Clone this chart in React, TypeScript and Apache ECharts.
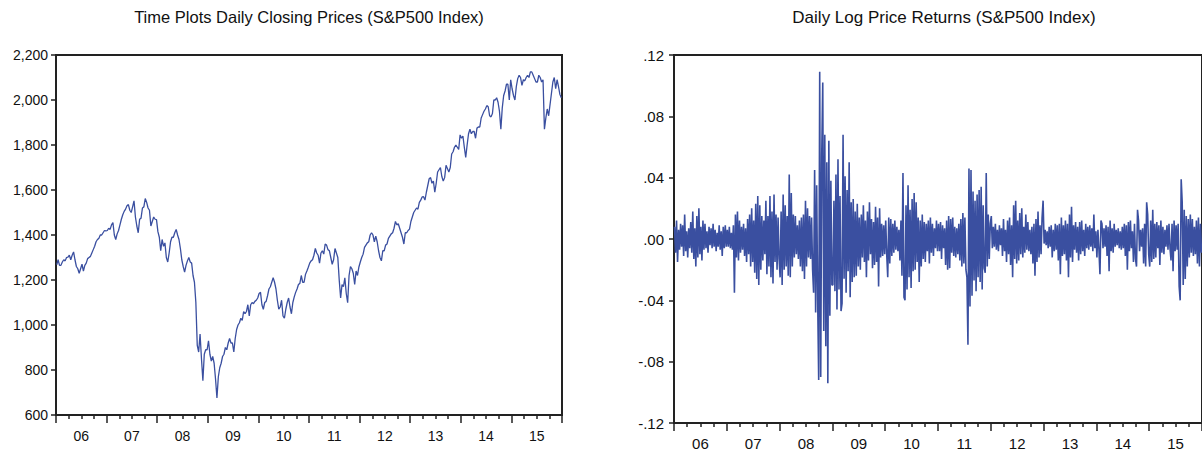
import React, { useEffect, useRef } from "react";
import * as echarts from "echarts";

// Year labels
const yearLabels = ["06", "07", "08", "09", "10", "11", "12", "13", "14", "15"];
const years = [2006, 2007, 2008, 2009, 2010, 2011, 2012, 2013, 2014, 2015];

// S&P500 closing prices, ~3 readings per month (36 per year)
const price2006 = [1268, 1290, 1265, 1265, 1280, 1290, 1285, 1300, 1302, 1310, 1290, 1310, 1325, 1290, 1260, 1250, 1230, 1250, 1270, 1240, 1265, 1275, 1295, 1300, 1305, 1320, 1335, 1350, 1370, 1380, 1385, 1400, 1400, 1410, 1420, 1418];
const price2007 = [1420, 1430, 1425, 1445, 1455, 1400, 1380, 1405, 1420, 1445, 1470, 1490, 1505, 1515, 1530, 1535, 1510, 1500, 1525, 1552, 1480, 1440, 1410, 1470, 1475, 1520, 1525, 1562, 1545, 1520, 1510, 1440, 1460, 1480, 1470, 1468];
const price2008 = [1415, 1390, 1330, 1380, 1350, 1365, 1300, 1280, 1320, 1370, 1390, 1390, 1410, 1425, 1400, 1380, 1340, 1290, 1260, 1235, 1265, 1285, 1300, 1280, 1275, 1220, 1190, 1100, 910, 880, 960, 850, 752, 870, 890, 890];
const price2009 = [930, 870, 840, 860, 830, 760, 676, 770, 810, 830, 860, 870, 900, 890, 920, 940, 920, 920, 880, 940, 980, 1000, 1010, 1030, 1020, 1060, 1050, 1060, 1090, 1040, 1090, 1100, 1095, 1105, 1110, 1120];
const price2010 = [1140, 1145, 1090, 1070, 1100, 1105, 1130, 1160, 1170, 1190, 1210, 1190, 1160, 1110, 1070, 1080, 1110, 1040, 1030, 1070, 1100, 1120, 1080, 1050, 1100, 1125, 1145, 1160, 1180, 1185, 1220, 1190, 1190, 1225, 1240, 1257];
const price2011 = [1275, 1285, 1290, 1310, 1340, 1320, 1310, 1275, 1320, 1330, 1315, 1360, 1355, 1335, 1330, 1300, 1270, 1290, 1340, 1320, 1300, 1200, 1120, 1180, 1170, 1210, 1140, 1099, 1220, 1260, 1250, 1230, 1180, 1240, 1220, 1258];
const price2012 = [1280, 1300, 1315, 1345, 1355, 1365, 1370, 1400, 1410, 1400, 1370, 1395, 1370, 1330, 1300, 1285, 1330, 1330, 1355, 1360, 1385, 1395, 1405, 1410, 1430, 1460, 1445, 1450, 1430, 1410, 1390, 1360, 1410, 1410, 1420, 1426];
const price2013 = [1460, 1480, 1500, 1510, 1520, 1515, 1545, 1555, 1569, 1570, 1555, 1590, 1620, 1650, 1655, 1630, 1640, 1590, 1630, 1680, 1690, 1700, 1660, 1640, 1655, 1710, 1695, 1680, 1700, 1760, 1770, 1790, 1800, 1790, 1780, 1845];
const price2014 = [1830, 1840, 1790, 1745, 1800, 1850, 1870, 1850, 1860, 1860, 1830, 1875, 1880, 1880, 1920, 1935, 1950, 1960, 1975, 1970, 1930, 1925, 1940, 2000, 2000, 2010, 1990, 1950, 1870, 1965, 2020, 2040, 2070, 2070, 2000, 2090];
const price2015 = [2050, 2020, 2000, 2060, 2095, 2110, 2100, 2065, 2090, 2085, 2100, 2110, 2100, 2125, 2125, 2110, 2095, 2080, 2080, 2110, 2100, 2080, 2090, 1870, 1920, 1960, 1930, 1980, 2030, 2080, 2100, 2050, 2090, 2060, 2025, 2010];

// Daily log returns, in percent, ~weekly readings (52 per year)
const ret2006 = [0.8, -0.9, 1.2, -1.5, 0.6, -0.7, 1.0, -0.5, 0.9, -1.1, 1.6, -0.8, 0.5, -1.2, 0.7, -0.6, 1.1, -0.9, 1.8, -1.3, 0.7, -1.8, 1.5, -1.2, 2.0, -1.0, 0.8, -1.4, 1.2, -0.7, 1.0, -0.6, 0.5, -0.9, 0.8, -0.4, 0.7, -0.6, 1.0, -0.5, 0.6, -0.8, 0.4, -0.5, 0.9, -0.7, 0.5, -1.1, 0.8, -0.6, 0.9, -0.5];
const ret2007 = [0.6, -0.5, 0.8, -0.6, 0.4, -0.7, 0.9, -3.5, 1.6, -1.2, 1.8, -1.4, 1.2, -0.9, 0.8, -0.7, 1.0, -1.1, 0.7, -1.5, 1.3, -1.0, 1.6, -1.8, 2.0, -1.5, 1.2, -2.2, 2.3, -2.6, 2.8, -3.0, 2.2, -2.0, 1.5, -1.4, 1.2, -1.0, 2.5, -2.3, 1.5, -1.8, 2.8, -2.5, 1.8, -2.9, 2.9, -1.5, 1.6, -2.0, 1.4, -1.3];
const ret2008 = [-2.5, 1.8, -3.0, 2.9, -2.0, 2.2, -1.8, 1.5, -2.4, 4.2, -2.5, 3.0, -1.8, 1.6, -1.2, 1.5, -1.0, 0.9, -1.3, 1.2, -1.8, 1.4, -2.1, 1.6, -2.6, 2.5, -1.8, 2.0, -1.2, 1.5, -1.3, 1.4, -2.0, -3.5, 4.5, -4.8, 3.5, -4.0, -9.2, 10.9, -9.0, 5.5, 10.2, -6.0, 6.8, -7.0, 5.0, -9.4, 6.4, -5.0, 3.8, -3.0];
const ret2009 = [-3.0, 2.5, -3.4, 4.2, -4.6, 5.2, -3.3, 2.8, -4.7, -4.2, 6.8, -2.6, 4.1, -3.5, 3.2, -2.1, 5.0, -3.8, 2.4, -2.8, 2.6, -2.5, 1.8, -2.4, 2.3, -1.8, 1.4, -2.0, 1.6, -1.2, 2.2, -1.5, 1.2, -2.5, 1.8, -1.4, 2.4, -1.0, 1.3, -1.9, 1.1, -1.7, 2.1, -1.5, 1.4, -3.1, 2.0, -1.2, 1.0, -1.1, 0.9, -1.0];
const ret2010 = [1.2, -1.0, -2.5, 1.4, -1.6, 1.3, -1.1, 1.0, -0.9, 1.2, -0.7, 0.8, -0.8, 0.6, -1.4, 1.2, -2.4, 4.3, -3.8, -4.0, 2.2, -3.3, 3.5, -2.5, 1.9, -3.2, 2.6, -2.1, 3.0, -2.0, 2.4, -1.5, 1.4, -2.8, 1.2, -1.8, 1.6, -1.3, 1.1, -1.5, 1.0, -0.8, 1.2, -1.6, 1.4, -0.9, 1.0, -1.1, 0.7, -0.6, 1.2, -0.8];
const ret2011 = [1.0, -0.8, 1.1, -1.3, 0.9, -0.6, 0.7, -1.7, 1.2, -2.0, 1.5, -1.9, 1.3, -0.9, 1.4, -1.1, 0.8, -1.2, 0.7, -1.0, 1.0, -1.4, 1.3, -1.8, 1.7, -1.6, 1.4, -2.0, -2.5, -6.9, 4.6, -4.4, 4.5, -3.7, 3.1, -2.7, 2.5, -3.4, 2.9, -2.5, 3.2, -2.8, 3.4, -3.3, 2.2, -1.9, -2.2, 4.3, -1.8, 1.6, -1.3, 1.0];
const ret2012 = [1.5, -0.6, 0.8, -0.5, 1.0, -0.7, 0.6, -0.8, 0.9, -0.4, 0.7, -1.1, 1.3, -0.8, 0.6, -1.5, 1.2, -1.0, 1.4, -1.7, 0.9, -2.5, 2.2, -1.3, 2.5, -1.6, 1.2, -1.4, 1.7, -1.0, 2.0, -1.2, 0.8, -0.9, 1.6, -0.7, 1.1, -0.8, 0.6, -1.0, 0.8, -1.6, 1.0, -2.4, 1.3, -1.5, 1.8, -1.2, 0.9, -1.0, 1.4, 2.5];
const ret2013 = [-0.3, 0.6, -0.4, 0.5, -0.6, 0.8, -0.5, 0.9, -1.2, 0.6, -0.8, 1.0, -0.7, 0.9, -1.4, 1.0, -2.3, 1.4, -1.1, 0.9, -1.0, 1.2, -1.4, 1.0, -2.5, 1.6, -1.2, 2.1, -1.5, 0.9, -0.7, 1.1, -0.9, 0.8, -1.4, 1.1, -1.0, 1.2, -0.8, 0.6, -1.1, 1.0, -0.6, 0.8, -0.7, 0.9, -0.5, 0.7, -0.8, 1.6, -0.6, 0.5];
const ret2014 = [-1.2, 0.6, -0.7, -2.3, 1.2, 1.0, -0.6, 0.7, -0.5, 0.9, -1.1, 0.8, -2.1, 1.2, -0.8, 0.7, -0.9, 1.0, -0.5, 0.6, -0.4, 0.7, -0.6, 0.5, -0.7, 0.8, -0.6, 1.0, -1.1, 0.9, -2.0, 1.1, -0.8, 1.2, -0.6, 0.5, -1.5, 1.0, -1.3, -1.8, 1.9, 1.2, -0.8, 0.6, -0.5, 0.7, -1.6, 1.0, -1.8, 2.4, 1.6, -1.0];
const ret2015 = [-1.8, 1.2, -1.5, 1.9, -1.3, 1.0, -1.2, 1.1, -0.6, 0.9, -1.7, 1.2, -0.9, 0.8, -1.0, 0.6, -0.5, 0.9, -0.7, 1.0, -0.6, -1.4, 1.0, -2.1, 1.2, -0.8, 0.9, -0.7, 1.0, -3.1, -4.0, 3.9, 2.4, -3.0, 1.9, -2.6, 1.5, -1.8, 1.3, -1.2, 1.6, -0.9, 1.3, -1.1, 0.8, -1.0, 1.2, -1.6, 1.4, -1.8, 1.0, -0.9];

const priceByYear = [price2006, price2007, price2008, price2009, price2010, price2011, price2012, price2013, price2014, price2015];
const retByYear = [ret2006, ret2007, ret2008, ret2009, ret2010, ret2011, ret2012, ret2013, ret2014, ret2015];

const priceTicks = { min: 600, max: 2200, interval: 200 };
const retTicks = { min: -12, max: 12, interval: 4 };

function spread(byYear: number[][]): number[][] {
  const out: number[][] = [];
  byYear.forEach((arr, k) => {
    const n = arr.length;
    arr.forEach((v, i) => out.push([years[k] + (i + 0.5) / n, v]));
  });
  return out;
}

const FONT = '"Liberation Sans", Arial, Helvetica, sans-serif';
const LINE = "#3a4fa0";
const AXIS = "#222";

export default function App() {
  const ref = useRef<HTMLDivElement>(null);
  useEffect(() => {
    if (!ref.current) return;
    const chart = echarts.init(ref.current, undefined, { renderer: "svg" });
    const valueX = (gridIndex: number) => ({
      type: "value",
      gridIndex,
      min: 2006,
      max: 2016,
      interval: 1,
      position: "bottom",
      axisLine: { show: true, onZero: false, lineStyle: { color: AXIS, width: 2 } },
      axisTick: { show: true, length: 8, lineStyle: { color: AXIS, width: 1.5 } },
      minorTick: { show: true, splitNumber: 4, length: 4, lineStyle: { color: AXIS, width: 1.5 } },
      axisLabel: { show: false },
      splitLine: { show: false },
      minorSplitLine: { show: false },
    });
    const labelX = (gridIndex: number, size: number, margin: number) => ({
      type: "category",
      gridIndex,
      data: yearLabels,
      boundaryGap: true,
      position: "bottom",
      axisLine: { show: false, onZero: false },
      axisTick: { show: false },
      axisLabel: { color: "#111", fontFamily: FONT, fontSize: size, margin },
      splitLine: { show: false },
    });
    const fmtRet = (v: number) => {
      const s = (Math.abs(v) / 100).toFixed(2).replace(/^0/, "");
      return (v < 0 ? "-" : "") + s;
    };
    chart.setOption({
      animation: false,
      backgroundColor: "#fff",
      graphic: [
        {
          type: "text",
          x: 309,
          y: 17,
          style: {
            text: "Time Plots Daily Closing Prices (S&P500 Index)",
            fill: "#111",
            font: `16.5px ${FONT}`,
            textAlign: "center",
            textVerticalAlign: "middle",
          },
        },
        {
          type: "text",
          x: 944,
          y: 17,
          style: {
            text: "Daily Log Price Returns (S&P500 Index)",
            fill: "#111",
            font: `17px ${FONT}`,
            textAlign: "center",
            textVerticalAlign: "middle",
          },
        },
      ],
      grid: [
        { left: 56, top: 55, width: 506, height: 360, show: true, borderColor: AXIS, borderWidth: 2, backgroundColor: "transparent" },
        { left: 674, top: 55, width: 541, height: 368, show: true, borderColor: AXIS, borderWidth: 2, backgroundColor: "transparent" },
      ],
      xAxis: [valueX(0), labelX(0, 14, 14), valueX(1), labelX(1, 15, 13)],
      yAxis: [
        {
          type: "value",
          gridIndex: 0,
          min: priceTicks.min,
          max: priceTicks.max,
          interval: priceTicks.interval,
          axisLine: { show: true, onZero: false, lineStyle: { color: AXIS, width: 2 } },
          axisTick: { show: true, length: 5, lineStyle: { color: AXIS, width: 1.5 } },
          axisLabel: {
            color: "#111",
            fontFamily: FONT,
            fontSize: 14,
            margin: 8,
            formatter: (v: number) => v.toLocaleString("en-US"),
          },
          splitLine: { show: false },
        },
        {
          type: "value",
          gridIndex: 1,
          min: retTicks.min,
          max: retTicks.max,
          interval: retTicks.interval,
          axisLine: { show: true, onZero: false, lineStyle: { color: AXIS, width: 2 } },
          axisTick: { show: true, length: 5, lineStyle: { color: AXIS, width: 1.5 } },
          axisLabel: { color: "#111", fontFamily: FONT, fontSize: 15, margin: 10, formatter: fmtRet },
          splitLine: { show: false },
        },
      ],
      series: [
        {
          type: "line",
          xAxisIndex: 0,
          yAxisIndex: 0,
          data: spread(priceByYear),
          showSymbol: false,
          lineStyle: { color: LINE, width: 1.3 },
          silent: true,
        },
        {
          type: "line",
          xAxisIndex: 2,
          yAxisIndex: 1,
          data: spread(retByYear),
          showSymbol: false,
          lineStyle: { color: LINE, width: 1.6 },
          silent: true,
        },
      ],
    });
    return () => chart.dispose();
  }, []);
  return (
    <div style={{ position: "fixed", left: 0, top: 0, width: 1202, height: 452, overflow: "hidden", background: "#fff" }}>
      <div ref={ref} style={{ width: 1202, height: 452 }} />
    </div>
  );
}
